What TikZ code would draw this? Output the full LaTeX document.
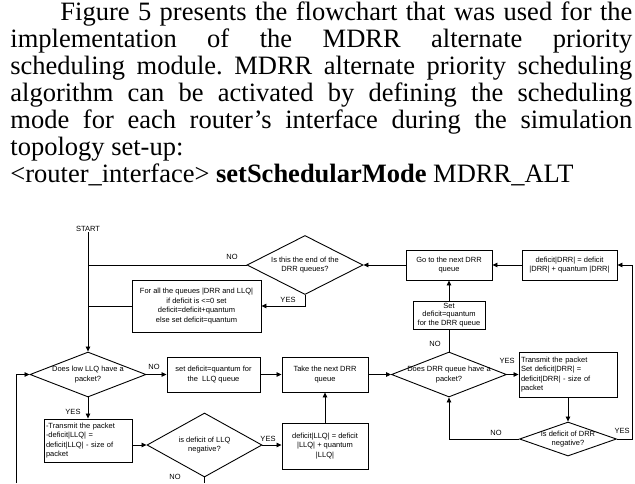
\documentclass[tikz,border=0pt]{standalone}
\usepackage{fontspec}
\setmainfont{Liberation Serif}
\newfontfamily\flowfont{Liberation Sans}
\usetikzlibrary{arrows.meta,shapes.geometric}
\newcommand\ffs{\flowfont\fontsize{7.5}{9.5}\selectfont}
\frenchspacing
\begin{document}
\begin{tikzpicture}[x=1pt,y=-1pt,
  line width=0.8pt,
  para/.style={anchor=base west,inner sep=0pt,font=\fontsize{26.5}{27}\selectfont},
  fbox/.style={draw,rectangle,inner sep=1.5pt,font=\ffs,align=center,line width=0.9pt},
  dia/.style={draw,diamond,inner sep=0pt,line width=0.9pt},
  lab/.style={font=\ffs,inner sep=0pt},
  arr/.style={-{Triangle[length=5pt,width=4.5pt]}},
]
\useasboundingbox (0,0) rectangle (635,483);

% paragraph
\node[para] (l1) at (60,20.5) {\makebox[572pt][s]{Figure 5 presents the flowchart that was used for the}};
\node[para] (l2) at (10,47.5) {\makebox[622pt][s]{implementation of the MDRR alternate priority}};
\node[para] (l3) at (10,74.5) {\makebox[622pt][s]{scheduling module. MDRR alternate priority scheduling}};
\node[para] (l4) at (10,101.5) {\makebox[622pt][s]{algorithm can be activated by defining the scheduling}};
\node[para] (l5) at (10,128.5) {\makebox[622pt][s]{mode for each router’s interface during the simulation}};
\node[para] (l6) at (10,155.5) {topology set-up:};
\node[para] (l7) at (10,182.5) {<router\_interface> \textbf{setSchedularMode} MDRR\_ALT};

% flowchart nodes
\node[lab] (start) at (88,229) {START};

\node[dia,minimum width=116pt,minimum height=59pt,
  label={[lab,align=center]center:{Is this the end of the\\DRR queues?}}] (endd) at (305,265) {};
\node[fbox,minimum width=129pt,minimum height=52pt] (forall) at (196.5,306)
  {For all the queues |DRR and LLQ|\\if deficit is <=0 set\\deficit=deficit+quantum\\else set deficit=quantum};

\node[dia,minimum width=116pt,minimum height=45pt,
  label={[lab,align=center]center:{Does low LLQ have a\\packet?}}] (llqhas) at (88,374.5) {};
\node[fbox,minimum width=93pt,minimum height=35pt] (setllq) at (213.5,374.5)
  {set deficit=quantum for\\the \ LLQ queue};
\node[fbox,minimum width=86pt,minimum height=35pt] (take) at (325,374.5)
  {Take the next DRR\\queue};

\node[fbox,minimum width=88pt,minimum height=43pt,text width=84pt,align=left] (txllq) at (88,440.5)
  {-Transmit the packet\\-deficit|LLQ| =\\deficit|LLQ| - size of\\packet};
\node[dia,minimum width=115pt,minimum height=64pt,
  label={[lab,align=center]center:{is deficit of LLQ\\negative?}}] (llqneg) at (204.5,445) {};
\node[fbox,minimum width=86pt,minimum height=46pt] (defllq) at (325,446)
  {deficit|LLQ| = deficit\\|LLQ| + quantum\\|LLQ|};

\node[fbox,minimum width=86pt,minimum height=30pt] (go) at (449,265)
  {Go to the next DRR\\queue};
\node[fbox,minimum width=95pt,minimum height=30pt] (defdrr) at (569.5,265)
  {deficit|DRR| = deficit\\|DRR| + quantum |DRR|};
\node[fbox,minimum width=72pt,minimum height=28pt,font=\flowfont\fontsize{7.5}{8.5}\selectfont,inner sep=0.5pt] (setdrr) at (449,315)
  {Set\\deficit=quantum\\for the DRR queue};

\node[dia,minimum width=115pt,minimum height=45pt,
  label={[lab,align=center]center:{Does DRR queue have a\\packet?}}] (drrhas) at (449,374.5) {};
\node[fbox,minimum width=98pt,minimum height=45pt,text width=94pt,align=left] (txdrr) at (568,374.5)
  {Transmit the packet\\Set deficit|DRR| =\\deficit|DRR| - size of\\packet};
\node[dia,minimum width=97pt,minimum height=34pt,
  label={[lab,align=center]center:{Is deficit of DRR\\negative?}}] (drrneg) at (568,439) {};

\coordinate (bot) at (0,483);
\coordinate (loopb) at (16,483);
\coordinate (rt) at (632,439);

% connectors
\draw[arr] (start) -- (llqhas);
\draw (endd.west) -- (endd.west -| start);
\draw[arr] (endd.south) |- (forall.east);
\draw (forall.west) -- (forall.west -| start);
\draw[arr] (llqhas) -- (setllq);
\draw[arr] (setllq) -- (take);
\draw[arr] (llqhas) -- (txllq);
\draw[arr] (llqneg.west -| txllq.east) -- (llqneg.west);
\draw[arr] (llqneg.east) -- (llqneg.east -| defllq.west);
\draw (llqneg.south) -- (llqneg.south |- bot);
\draw[arr] (loopb) |- (llqhas.west);
\draw[arr] (defllq) -- (take);
\draw[arr] (take) -- (drrhas);
\draw (drrhas) -- (setdrr);
\draw[arr] (setdrr) -- (go);
\draw[arr] (go) -- (endd);
\draw[arr] (defdrr) -- (go);
\draw[arr] (drrhas) -- (txdrr);
\draw[arr] (txdrr) -- (drrneg);
\draw[arr] (drrneg.west) -| (drrhas.south);
\draw[arr] (drrneg.east) -- (rt) |- (defdrr.east);

% branch labels
\node[lab] (n1) at (232,257) {NO};
\node[lab] (y1) at (288,300) {YES};
\node[lab] (n2) at (154,367) {NO};
\node[lab] (y2) at (73,412) {YES};
\node[lab] (y3) at (268,439) {YES};
\node[lab] (n3) at (175,477) {NO};
\node[lab] (n4) at (435,344) {NO};
\node[lab] (y4) at (507,361) {YES};
\node[lab] (n5) at (496,433) {NO};
\node[lab] (y5) at (622,431) {YES};
\end{tikzpicture}
\end{document}
